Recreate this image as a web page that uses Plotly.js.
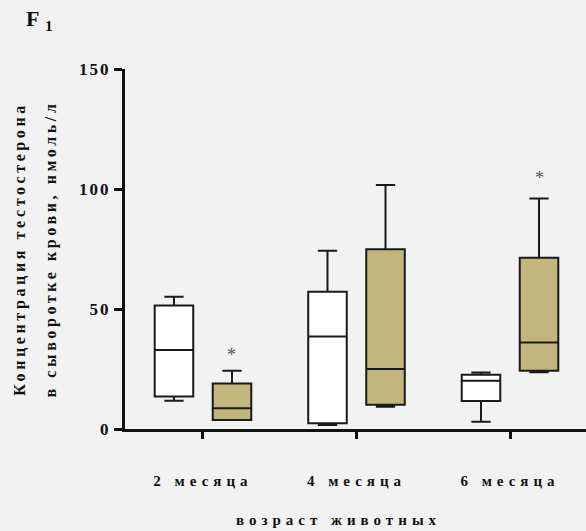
<!DOCTYPE html>
<html><head><meta charset="utf-8">
<script src="https://cdn.plot.ly/plotly-3.0.1.min.js"></script>
<style>
html,body{margin:0;padding:0;background:#f2f2f2;}
#chart{width:586px;height:531px;}
.xtick text, .xtitle { letter-spacing: 5px; }
.ytitle { letter-spacing: 3.6px; }
.ytick text { letter-spacing: 2px; }
</style></head><body><div id="chart"></div>
<script>
// Data
const categories = ['2 месяца', '4 месяца', '6 месяца'];
const controlLower  = [11.8, 1.7, 3.0];
const controlQ1     = [13.5, 2.4, 11.7];
const controlMedian = [32.9, 38.5, 20.1];
const controlQ3     = [51.5, 57.2, 22.6];
const controlUpper  = [55.1, 74.3, 23.5];
const treatLower    = [3.75, 9.3, 23.6];
const treatQ1       = [3.75, 10.1, 24.3];
const treatMedian   = [8.6, 25.0, 36.0];
const treatQ3       = [19.0, 74.9, 71.4];
const treatUpper    = [24.3, 101.7, 96.0];
const starY         = [31, null, 104.6];
const yTickVals = [0, 50, 100, 150];
const yTickText = ['0', '50', '100', '150'];

const serif = 'Liberation Serif, Times New Roman, serif';
const boxBase = {
  type: 'box', x: categories, boxpoints: false, whiskerwidth: 0.5,
  line: {color: '#1a1a1a', width: 2}, showlegend: false, hoverinfo: 'skip'
};
const traces = [
  Object.assign({}, boxBase, {name: 'control', q1: controlQ1, median: controlMedian, q3: controlQ3,
    lowerfence: controlLower, upperfence: controlUpper, fillcolor: '#ffffff'}),
  Object.assign({}, boxBase, {name: 'treated', q1: treatQ1, median: treatMedian, q3: treatQ3,
    lowerfence: treatLower, upperfence: treatUpper, fillcolor: '#c2b67e'})
];

const annotations = [];
starY.forEach((v, i) => {
  if (v !== null) annotations.push({x: categories[i], y: v, xref: 'x', yref: 'y', text: '*',
    showarrow: false, xshift: 29, font: {family: serif, size: 18, color: '#555'}});
});

const layout = {
  width: 586, height: 531,
  paper_bgcolor: '#f2f2f2', plot_bgcolor: '#f2f2f2',
  margin: {l: 125, r: 0, t: 69, b: 102},
  boxmode: 'group', boxgap: 0.244, boxgroupgap: 0.336,
  title: {text: 'F&nbsp;<sub>1</sub>', x: 26 / 586, xanchor: 'left', xref: 'container', y: 0.965, yanchor: 'middle',
    font: {family: serif, size: 22, weight: 700, color: '#111'}},
  xaxis: {
    type: 'category', range: [-0.508, 2.495], showline: true, linewidth: 3, linecolor: '#111',
    ticks: 'outside', ticklen: 7, tickwidth: 3, tickcolor: '#111', ticklabelstandoff: 29,
    showgrid: false, zeroline: false, automargin: false,
    tickfont: {family: serif, size: 15, weight: 700, color: '#111'},
    title: {text: 'возраст животных', standoff: 27, font: {family: serif, size: 15, weight: 700, color: '#111'}}
  },
  yaxis: {
    range: [0, 150], showline: true, linewidth: 3, linecolor: '#111',
    ticks: 'outside', ticklen: 8, tickwidth: 3, tickcolor: '#111',
    tickvals: yTickVals, ticktext: yTickText, showgrid: false, zeroline: false, automargin: false,
    tickfont: {family: serif, size: 17, weight: 700, color: '#111'},
    title: {text: 'Концентрация тестостерона<br>в сыворотке крови, нмоль/л', standoff: 29,
      font: {family: serif, size: 16, weight: 700, color: '#111'}}
  },
  annotations: annotations
};

Plotly.newPlot('chart', traces, layout, {staticPlot: true}).then(gd => {
  const lines = gd.querySelectorAll('.ytitle tspan.line');
  if (lines.length > 1) lines[1].setAttribute('dy', '1.95em');
  const xt = gd.querySelector('.xtitle');
  if (xt) {
    const tr = xt.getAttribute('transform') || '';
    xt.setAttribute('transform', 'translate(-17,0) ' + tr);
  }
});
</script></body></html>
